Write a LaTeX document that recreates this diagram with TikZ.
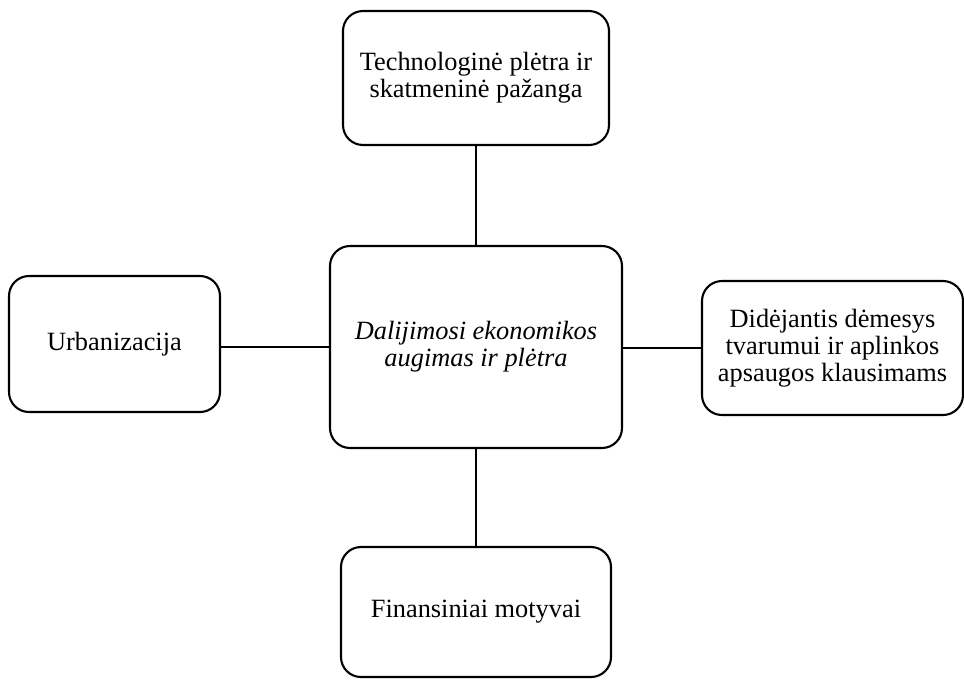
\documentclass[tikz,border=0pt]{standalone}
\usepackage{fontspec}
\setmainfont{Liberation Serif}
\usetikzlibrary{positioning}

\begin{document}
\begin{tikzpicture}[x=0.02cm,y=-0.02cm]
\tikzstyle{every node}=[draw,line width=1.2pt,rounded corners=0.4cm,align=center,
  inner sep=2pt,font=\fontsize{15}{15.4}\selectfont]
\useasboundingbox (0,0) rectangle (964,681);
\node[minimum width=292*0.02cm,minimum height=202*0.02cm,font=\fontsize{15}{15.4}\selectfont\itshape]
  (augimas) at (476,347) {Dalijimosi ekonomikos\\augimas ir plėtra};
\node[minimum width=266*0.02cm,minimum height=134*0.02cm] (technologija) at (476,78)
  {Technologinė plėtra ir\\skatmeninė pažanga};
\node[minimum width=211*0.02cm,minimum height=136*0.02cm] (urbanizacija) at (114.5,344)
  {Urbanizacija};
\node[minimum width=261*0.02cm,minimum height=134*0.02cm] (tvarumas) at (832.5,348)
  {Didėjantis dėmesys\\tvarumui ir aplinkos\\apsaugos klausimams};
\node[minimum width=270*0.02cm,minimum height=130*0.02cm] (finansai) at (476,612)
  {Finansiniai motyvai};
\draw[line width=1.2pt] (augimas) -- (technologija);
\draw[line width=1.2pt] (augimas) -- (finansai);
\draw[line width=1.2pt] (augimas.west) -- (augimas.west -| urbanizacija.east);
\draw[line width=1.2pt] (tvarumas.west) -- (tvarumas.west -| augimas.east);
\end{tikzpicture}
\end{document}
